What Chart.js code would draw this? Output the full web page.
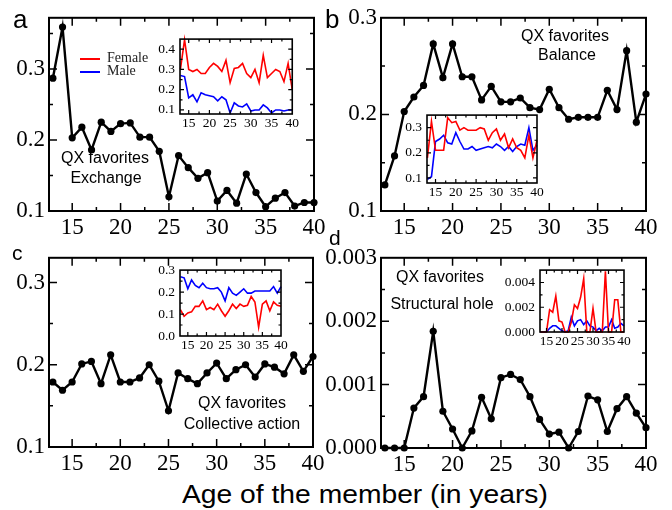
<!DOCTYPE html>
<html>
<head>
<meta charset="utf-8">
<script src="https://cdn.jsdelivr.net/npm/chart.js@4.4.1/dist/chart.umd.min.js"></script>
<style>
  body { margin: 0; background: #fff; width: 672px; height: 510px; position: relative; overflow: hidden; }
  canvas { position: absolute; }
  .t { position: absolute; font-family: "Liberation Sans", Arial, sans-serif; color: #000; white-space: nowrap; line-height: 1; }
  .c { transform: translateX(-50%); }
  .s { font-family: "Liberation Serif", "Times New Roman", serif; color: #222; }
  .key { position: absolute; height: 2px; width: 20px; }
</style>
</head>
<body>

<canvas id="mainA" width="336" height="240" style="left:0;top:0"></canvas>
<canvas id="mainB" width="336" height="240" style="left:336px;top:0"></canvas>
<canvas id="mainC" width="336" height="236" style="left:0;top:240px"></canvas>
<canvas id="mainD" width="362" height="236" style="left:310px;top:240px"></canvas>

<canvas id="insetA" width="160" height="108" style="left:140px;top:26px"></canvas>
<canvas id="insetB" width="150" height="100" style="left:395px;top:102px"></canvas>
<canvas id="insetC" width="150" height="100" style="left:140px;top:257px"></canvas>
<canvas id="insetD" width="138" height="97" style="left:495px;top:257px"></canvas>

<div class="t" style="left:13px;top:6px;font-size:26px">a</div>
<div class="t" style="left:325px;top:6px;font-size:26px">b</div>
<div class="t" style="left:12px;top:242px;font-size:21px">c</div>
<div class="t" style="left:329px;top:227px;font-size:21px">d</div>

<div class="key" style="left:80px;top:58px;background:#f00"></div>
<div class="t s" style="left:107px;top:51px;font-size:14px">Female</div>
<div class="key" style="left:80px;top:71px;background:#00f"></div>
<div class="t s" style="left:107px;top:64px;font-size:14px">Male</div>

<div class="t c" style="left:105px;top:150px;font-size:16px">QX favorites</div>
<div class="t c" style="left:106px;top:170px;font-size:16px">Exchange</div>
<div class="t c" style="left:565px;top:28px;font-size:16px">QX favorites</div>
<div class="t c" style="left:567px;top:47px;font-size:16px">Balance</div>
<div class="t c" style="left:242px;top:395px;font-size:16px">QX favorites</div>
<div class="t c" style="left:242px;top:416px;font-size:16px">Collective action</div>
<div class="t c" style="left:440px;top:269px;font-size:16px">QX favorites</div>
<div class="t c" style="left:442px;top:296px;font-size:16px">Structural hole</div>

<div class="t" style="left:182px;top:482px;font-size:25px;transform:scaleX(1.13);transform-origin:0 0">Age of the member (in years)</div>

<script>
'use strict';

// ages on the x axis
var ages = [13, 14, 15, 16, 17, 18, 19, 20, 21, 22, 23, 24, 25, 26, 27, 28, 29, 30,
            31, 32, 33, 34, 35, 36, 37, 38, 39, 40];

// a - Exchange
var exchange = [0.287, 0.359, 0.203, 0.218, 0.186, 0.225, 0.212, 0.223, 0.224, 0.204, 0.204, 0.184, 0.120, 0.178,
                0.161, 0.146, 0.154, 0.114, 0.129, 0.111, 0.152, 0.126, 0.106, 0.118, 0.126, 0.107, 0.112, 0.112];
var exchangeFemale = [0.30, 0.447, 0.30, 0.29, 0.30, 0.28, 0.28, 0.31, 0.33, 0.315, 0.29, 0.345, 0.235, 0.305,
                      0.31, 0.33, 0.28, 0.26, 0.30, 0.235, 0.37, 0.26, 0.28, 0.30, 0.29, 0.24, 0.33, 0.20];
var exchangeMale = [0.27, 0.265, 0.16, 0.175, 0.14, 0.185, 0.175, 0.17, 0.165, 0.145, 0.165, 0.15, 0.085, 0.135,
                    0.12, 0.115, 0.13, 0.095, 0.10, 0.10, 0.125, 0.11, 0.085, 0.10, 0.10, 0.095, 0.10, 0.10];

// b - Balance
var balance = [0.127, 0.157, 0.203, 0.218, 0.230, 0.273, 0.238, 0.273, 0.239, 0.239, 0.215, 0.229, 0.213, 0.213,
               0.217, 0.207, 0.205, 0.226, 0.207, 0.195, 0.197, 0.197, 0.197, 0.225, 0.205, 0.266, 0.192, 0.221];
var balanceFemale = [0.18, 0.325, 0.21, 0.21, 0.21, 0.34, 0.32, 0.325, 0.29, 0.30, 0.29, 0.29, 0.29, 0.30,
                     0.295, 0.25, 0.28, 0.295, 0.25, 0.275, 0.22, 0.255, 0.22, 0.21, 0.18, 0.27, 0.18, 0.25];
var balanceMale = [0.095, 0.105, 0.245, 0.255, 0.27, 0.24, 0.235, 0.28, 0.245, 0.215, 0.215, 0.225, 0.21, 0.215,
                   0.22, 0.225, 0.22, 0.235, 0.225, 0.21, 0.225, 0.205, 0.225, 0.235, 0.23, 0.30, 0.21, 0.23];

// c - Collective action
var collective = [0.179, 0.169, 0.179, 0.201, 0.204, 0.177, 0.212, 0.179, 0.179, 0.184, 0.200, 0.180, 0.144, 0.190,
                  0.183, 0.177, 0.190, 0.202, 0.183, 0.194, 0.200, 0.185, 0.201, 0.197, 0.189, 0.212, 0.192, 0.210];
var collectiveFemale = [0.12, 0.09, 0.105, 0.11, 0.135, 0.135, 0.16, 0.12, 0.13, 0.12, 0.145, 0.115, 0.09, 0.115,
                        0.145, 0.125, 0.145, 0.135, 0.14, 0.18, 0.155, 0.04, 0.145, 0.16, 0.115, 0.155, 0.14, 0.135];
var collectiveMale = [0.27, 0.265, 0.215, 0.255, 0.23, 0.22, 0.24, 0.22, 0.215, 0.215, 0.22, 0.20, 0.16, 0.22,
                      0.195, 0.185, 0.20, 0.215, 0.195, 0.195, 0.205, 0.205, 0.205, 0.205, 0.205, 0.225, 0.195, 0.225];

// d - Structural hole
var hole = [0, 0, 0, 0.00063, 0.00081, 0.00184, 0.00058, 0.0003, 0, 0.00027, 0.0008, 0.00046, 0.00111, 0.00116,
            0.00108, 0.00081, 0.00045, 0.00022, 0.00025, 0, 0.00026, 0.00082, 0.00076, 0.00026, 0.00062, 0.00081, 0.00055, 0.00032];
var holeFemale = [0, 0, 0, 0.0018, 0.0016, 0.0029, 0.0009, 0.0008, 0, 0, 0.0008, 0.0022, 0.0019, 0.0028,
                  0.0043, 0, 0, 0.0019, 0, 0, 0, 0.0049, 0, 0, 0.0026, 0.0026, 0, 0];
var holeMale = [0, 0, 0, 0.0003, 0.0005, 0.0005, 0.0003, 0.0001, 0, 0.0001, 0.0012, 0.0005, 0.0009, 0.001,
                0.0006, 0.0009, 0.0005, 0.0004, 0.0001, 0.0003, 0.0001, 0.0004, 0.0004, 0.001, 0.0003, 0.0004, 0.0007, 0.0005];

// tick labels
var xTicks = [15, 20, 25, 30, 35, 40];
var xMinor = [17.5, 22.5, 27.5, 32.5, 37.5];
var yTicksABC = [0.1, 0.2, 0.3];
var yMinorABC = [0.15, 0.25, 0.35];
var yTicksD = [0.000, 0.001, 0.002, 0.003];
var yMinorD = [0.0005, 0.0015, 0.0025];
var yTicksInsetA = [0.1, 0.2, 0.3, 0.4];
var yTicksInsetB = [0.1, 0.2, 0.3];
var yTicksInsetC = [0.0, 0.1, 0.2, 0.3];
var yTicksInsetD = [0.000, 0.002, 0.004];

var SERIF = '"Liberation Serif", "Times New Roman", serif';
Chart.defaults.color = '#000';

// box round the plot with ticks pointing inwards on all four sides
var framePlugin = {
    id: 'frame',
    beforeDraw: function (chart, args, o) {
        if (!o.fill) return;
        var a = chart.chartArea, ctx = chart.ctx;
        ctx.save();
        ctx.fillStyle = '#fff';
        ctx.fillRect(a.left, a.top, a.right - a.left, a.bottom - a.top);
        ctx.restore();
    },
    afterDraw: function (chart, args, o) {
        var a = chart.chartArea, ctx = chart.ctx;
        var xs = chart.scales.x, ys = chart.scales.y;
        ctx.save();
        ctx.strokeStyle = '#000';
        ctx.lineWidth = o.width;
        ctx.strokeRect(a.left, a.top, a.right - a.left, a.bottom - a.top);
        ctx.lineWidth = o.width * 0.75;
        ctx.beginPath();
        function xTick(v, len) {
            var px = xs.getPixelForValue(v);
            if (px < a.left + 1 || px > a.right - 1) return;
            ctx.moveTo(px, a.bottom); ctx.lineTo(px, a.bottom - len);
            ctx.moveTo(px, a.top); ctx.lineTo(px, a.top + len);
        }
        function yTick(v, len) {
            var py = ys.getPixelForValue(v);
            if (py < a.top + 1 || py > a.bottom - 1) return;
            ctx.moveTo(a.left, py); ctx.lineTo(a.left + len, py);
            ctx.moveTo(a.right, py); ctx.lineTo(a.right - len, py);
        }
        xs.ticks.forEach(function (t) { xTick(t.value, o.major); });
        o.xMinor.forEach(function (v) { xTick(v, o.minor); });
        ys.ticks.forEach(function (t) { yTick(t.value, o.major); });
        o.yMinor.forEach(function (v) { yTick(v, o.minor); });
        ctx.stroke();
        ctx.restore();
    }
};

function series(values, color, withPoints, width) {
    return {
        data: ages.map(function (a, i) { return { x: a, y: values[i] }; }),
        borderColor: color,
        backgroundColor: color,
        borderWidth: width,
        pointRadius: withPoints ? 3.6 : 0,
        pointBorderWidth: 0,
        pointBackgroundColor: color,
        tension: 0,
        clip: false
    };
}

function panel(id, c) {
    return new Chart(document.getElementById(id), {
        type: 'line',
        data: { datasets: c.datasets },
        options: {
            responsive: false,
            animation: false,
            events: [],
            layout: { padding: { left: 0, top: c.padTop, right: c.padRight, bottom: 0 } },
            plugins: {
                legend: { display: false },
                tooltip: { enabled: false },
                frame: { width: c.frameWidth, major: c.major, minor: c.minor, xMinor: xMinor, yMinor: c.yMinor, fill: c.fill }
            },
            scales: {
                x: {
                    type: 'linear',
                    min: c.xMin,
                    max: 40,
                    afterBuildTicks: function (s) { s.ticks = xTicks.map(function (v) { return { value: v }; }); },
                    afterFit: function (s) { s.height = c.xHeight; },
                    grid: { display: false, drawTicks: false },
                    border: { display: false },
                    ticks: {
                        autoSkip: false, maxRotation: 0, padding: c.xPad,
                        font: { family: SERIF, size: c.fontSize },
                        callback: function (v) { return String(v); }
                    }
                },
                y: {
                    min: c.yMin,
                    max: c.yMax,
                    afterBuildTicks: function (s) { s.ticks = c.yTicks.map(function (v) { return { value: v }; }); },
                    afterFit: function (s) { s.width = c.yWidth; },
                    grid: { display: false, drawTicks: false },
                    border: { display: false },
                    ticks: {
                        padding: c.yPad,
                        font: { family: SERIF, size: c.fontSize },
                        callback: function (v) { return v.toFixed(c.decimals); }
                    }
                }
            }
        },
        plugins: [framePlugin]
    });
}

var mainBase = { xMin: 12.6, fontSize: 23, xPad: 3, yPad: 4, frameWidth: 2, major: 8, minor: 4, fill: false };
var insetBase = { xMin: 12.9, fontSize: 13.5, xPad: 1, yPad: 5, frameWidth: 1.6, major: 4, minor: 2.5, fill: true };

function merge(base, extra) { return Object.assign({}, base, extra); }

function drawAll() {
    panel('mainA', merge(mainBase, {
        datasets: [series(exchange, '#000', true, 2.4)],
        padTop: 16, padRight: 22, xHeight: 29, yWidth: 49,
        yMin: 0.1, yMax: 0.372, yTicks: yTicksABC, yMinor: yMinorABC, decimals: 1
    }));
    panel('mainB', merge(mainBase, {
        datasets: [series(balance, '#000', true, 2.4)],
        padTop: 16, padRight: 26, xHeight: 29, yWidth: 45,
        yMin: 0.1, yMax: 0.3, yTicks: yTicksABC, yMinor: yMinorABC, decimals: 1
    }));
    panel('mainC', merge(mainBase, {
        datasets: [series(collective, '#000', true, 2.4)],
        padTop: 14, padRight: 23, xHeight: 29, yWidth: 49,
        yMin: 0.1, yMax: 0.33, yTicks: yTicksABC, yMinor: yMinorABC, decimals: 1
    }));
    panel('mainD', merge(mainBase, {
        datasets: [series(hole, '#000', true, 2.4)],
        padTop: 13, padRight: 26, xHeight: 28, yWidth: 71,
        yMin: 0, yMax: 0.003, yTicks: yTicksD, yMinor: yMinorD, decimals: 3
    }));

    panel('insetA', merge(insetBase, {
        datasets: [series(exchangeFemale, '#f00', false, 1.6), series(exchangeMale, '#00f', false, 1.6)],
        padTop: 10, padRight: 7, xHeight: 20, yWidth: 40,
        yMin: 0.08, yMax: 0.45, yTicks: yTicksInsetA, yMinor: [0.15, 0.25, 0.35], decimals: 1
    }));
    panel('insetB', merge(insetBase, {
        datasets: [series(balanceFemale, '#f00', false, 1.6), series(balanceMale, '#00f', false, 1.6)],
        padTop: 10, padRight: 8, xHeight: 19, yWidth: 32,
        yMin: 0.08, yMax: 0.35, yTicks: yTicksInsetB, yMinor: [0.15, 0.25], decimals: 1
    }));
    panel('insetC', merge(insetBase, {
        datasets: [series(collectiveFemale, '#f00', false, 1.6), series(collectiveMale, '#00f', false, 1.6)],
        padTop: 10, padRight: 9, xHeight: 21, yWidth: 40,
        yMin: 0, yMax: 0.3, yTicks: yTicksInsetC, yMinor: [0.05, 0.15, 0.25], decimals: 1
    }));
    panel('insetD', merge(insetBase, {
        datasets: [series(holeFemale, '#f00', false, 1.6), series(holeMale, '#00f', false, 1.6)],
        padTop: 10, padRight: 9, xHeight: 22, yWidth: 45,
        yMin: 0, yMax: 0.005, yTicks: yTicksInsetD, yMinor: [0.001, 0.003], decimals: 3
    }));
}

// make sure the serif face is ready before the canvases draw their labels
Promise.all([
    document.fonts.load('23px "Liberation Serif"'),
    document.fonts.load('13px "Liberation Serif"')
]).then(drawAll, drawAll);
</script>
</body>
</html>
